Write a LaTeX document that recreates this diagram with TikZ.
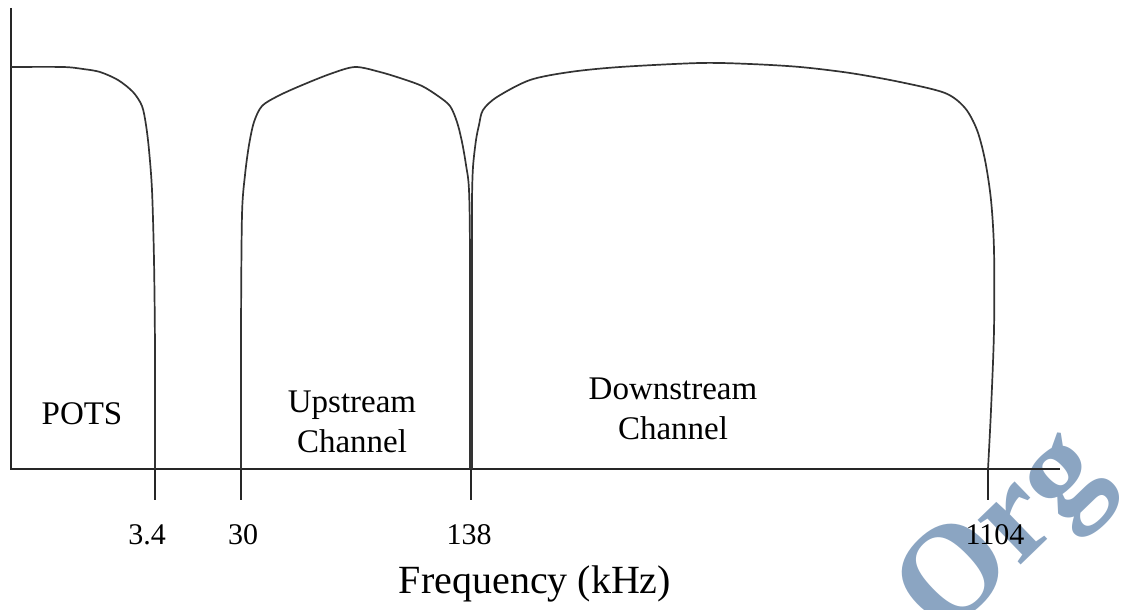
\documentclass[tikz,border=0pt]{standalone}
\usepackage{fontspec}
\setmainfont{Liberation Serif}

\definecolor{wmblue}{RGB}{139,165,194}

\tikzset{
  axisline/.style={line width=1.8pt, black!85},
  band/.style={line width=1.7pt, black!80, line join=round},
  ticklabel/.style={font=\fontsize{30}{32}\selectfont, inner sep=0pt},
  bandlabel/.style={font=\fontsize{33}{40}\selectfont, align=center, inner sep=0pt},
}

\begin{document}
\begin{tikzpicture}[x=1pt,y=-1pt]
\useasboundingbox (0,0) rectangle (1132,610);
\clip (0,0) rectangle (1132,610);

% watermark
\node[rotate=44, text=wmblue, font=\bfseries\fontsize{135}{135}\selectfont, inner sep=0pt]
  (wm) at (1006,538) {Org};

% axes and ticks
\draw[axisline] (11,8) -- (11,469) -- (1060,469);
\foreach \x in {155,241,471,988}
  \draw[axisline] (\x,469) -- (\x,500);

% POTS band
\draw[band] plot[smooth, tension=0.5] coordinates {
  (11,67) (63,67) (83,69) (100,72) (118,80) (133,92) (142,106) (146,125)
  (149,150) (152,190) (154,260) (155,350) (155,469)};
% upstream band
\draw[band] plot[smooth, tension=0.5] coordinates {
  (241,469) (241,330) (242,215) (245,175) (249,145) (254,122) (262,106)
  (278,96) (300,86) (330,74) (355,67) (380,72) (403,79) (422,86) (438,96)
  (450,106) (457,122) (462,142) (466,165) (469,190) (470,260) (470,469)};
% downstream band
\draw[band] plot[smooth, tension=0.5] coordinates {
  (472,469) (472,260) (472,200) (473,167) (476,140) (479,125) (483,110)
  (497,97) (530,80) (570,72) (620,67) (700,63) (750,64) (800,67) (850,73)
  (900,82) (945,93) (965,108) (977,130) (985,160) (991,200) (994,250)
  (994,330) (991,410) (988,469)};

% labels
\node[ticklabel] (f34)   at (147,535) {3.4};
\node[ticklabel] (f30)   at (243,535) {30};
\node[ticklabel] (f138)  at (469,535) {138};
\node[ticklabel] (f1104) at (995,535) {1104};
\node[font=\fontsize{40}{44}\selectfont, inner sep=0pt] (freq) at (535,584) {Frequency (kHz)};

\node[bandlabel] (pots) at (82,414) {POTS};
\node[bandlabel] (up)   at (352,422) {Upstream\\Channel};
\node[bandlabel] (down) at (673,409) {Downstream\\Channel};
\end{tikzpicture}
\end{document}
